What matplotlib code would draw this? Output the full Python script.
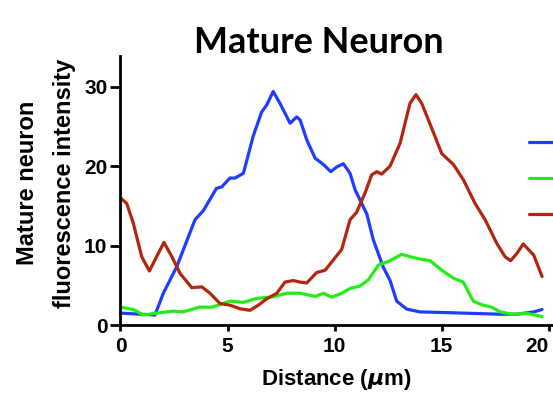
import matplotlib
matplotlib.use("Agg")
import matplotlib.pyplot as plt

# Line profiles along the neurite (distance in µm, intensity in a.u.)
blue_x = [0.0, 1.61, 2.0, 2.62, 3.48, 3.87, 4.48, 4.73, 5.11, 5.35, 5.74, 6.2, 6.59, 6.83,
          7.13, 7.45, 7.92, 8.23, 8.39, 8.7, 9.09, 9.48, 9.82, 10.1, 10.41, 10.72, 10.96,
          11.5, 11.81, 12.27, 12.59, 12.9, 13.37, 13.99, 15.37, 17.73, 18.51, 19.3, 19.69]
blue_y = [1.5, 1.26, 4.0, 7.3, 13.25, 14.4, 17.2, 17.4, 18.5, 18.5, 19.1, 23.8, 26.8, 27.7,
          29.4, 27.9, 25.4, 26.2, 25.8, 23.3, 21.0, 20.2, 19.3, 19.9, 20.3, 19.1, 17.0,
          14.0, 10.7, 7.3, 5.6, 3.0, 2.0, 1.65, 1.55, 1.36, 1.36, 1.65, 1.95]

green_x = [0.0, 0.6, 1.07, 1.61, 2.46, 2.91, 3.7, 4.29, 5.11, 5.74, 6.36, 7.13, 7.76, 8.39,
           9.09, 9.48, 9.86, 10.33, 10.72, 11.18, 11.58, 12.05, 12.51, 13.14, 13.52, 13.99,
           14.46, 15.0, 15.55, 16.01, 16.48, 16.87, 17.33, 17.73, 18.32, 19.0, 19.69]
green_y = [2.25, 1.95, 1.26, 1.46, 1.75, 1.65, 2.25, 2.25, 3.0, 2.85, 3.35, 3.55, 4.0, 4.0,
           3.6, 4.0, 3.5, 4.0, 4.6, 4.9, 5.7, 7.55, 8.0, 8.9, 8.6, 8.3,
           8.1, 6.9, 5.9, 5.4, 3.0, 2.55, 2.25, 1.65, 1.36, 1.46, 1.06]

red_x = [0.0, 0.29, 0.6, 0.99, 1.35, 1.61, 2.03, 2.4, 2.78, 3.33, 3.8, 4.18, 4.65, 5.11,
         5.58, 6.05, 6.44, 6.83, 7.3, 7.68, 8.07, 8.39, 8.7, 9.16, 9.56, 9.94, 10.33, 10.72,
         11.03, 11.42, 11.73, 11.97, 12.2, 12.59, 13.06, 13.52, 13.8, 14.07, 14.62, 15.0,
         15.55, 16.01, 16.56, 17.03, 17.57, 17.96, 18.22, 18.51, 18.81, 19.3, 19.69]
red_y = [16.0, 15.3, 12.8, 8.6, 6.8, 8.2, 10.4, 8.6, 6.5, 4.7, 4.8, 4.0, 2.7, 2.5,
         2.05, 1.85, 2.5, 3.3, 4.0, 5.4, 5.6, 5.4, 5.3, 6.6, 6.9, 8.2, 9.5, 13.25,
         14.2, 16.6, 18.9, 19.3, 19.0, 20.0, 22.9, 27.9, 29.0, 27.9, 24.2, 21.6,
         20.2, 18.3, 15.3, 13.25, 10.3, 8.6, 8.1, 9.0, 10.2, 8.8, 6.1]

series_colors = ["#1f3dff", "#22ee16", "#b2260f"]

x_ticks = [0, 5, 10, 15, 20]
y_ticks = [0, 10, 20, 30]

plt.rcParams["font.family"] = ["Liberation Sans", "DejaVu Sans"]
plt.rcParams["font.weight"] = "bold"

fig = plt.figure(figsize=(5.53, 3.94), dpi=100)
ax = fig.add_axes([0.2179, 0.1751, 1.0 - 0.2179, 0.8586 - 0.1751])

lw = 2.3
handles = []
for xs, ys, col in zip([blue_x, green_x, red_x], [blue_y, green_y, red_y], series_colors):
    h, = ax.plot(xs, ys, color=col, lw=lw, solid_joinstyle="round",
                 solid_capstyle="round", clip_on=False)
    handles.append(h)

ax.set_xlim(0, 20.2)
ax.set_ylim(0, 33.9)
ax.set_xticks(x_ticks)
ax.set_yticks(y_ticks)

for side in ("top", "right"):
    ax.spines[side].set_visible(False)
for side in ("left", "bottom"):
    ax.spines[side].set_linewidth(2.0)

ax.tick_params(axis="y", length=7.5, width=2.0, pad=2, labelsize=15)
ax.tick_params(axis="x", length=4.5, width=2.0, pad=4, labelsize=15)
for t in ax.get_xticklabels() + ax.get_yticklabels():
    t.set_fontweight("bold")
# keep the last distance label inside the frame
ax.get_xticklabels()[-1].set_horizontalalignment("right")
ax.get_xticklabels()[-1].set_x(20.1)

ax.set_xlabel(r"Distance ($\mu$m)", fontsize=16, fontweight="bold", labelpad=8)

fig.text(0.083, 0.535, "Mature neuron\nfluorescence intensity", rotation=90,
         ha="center", va="center", multialignment="center", fontsize=17,
         fontweight="bold", linespacing=1.8)

fig.text(0.577, 0.893, "Mature Neuron", ha="center", va="center",
         fontsize=26, fontweight="bold", family=["Lato", "DejaVu Sans"])

ax.legend(handles, ["", "", ""], loc="upper left",
          bbox_to_anchor=(529 / 553, 1 - 135 / 394),
          bbox_transform=fig.transFigure, frameon=False, borderpad=0,
          borderaxespad=0, handlelength=2.0, fontsize=14, labelspacing=0.95)

fig.savefig("out.png", dpi=100)
